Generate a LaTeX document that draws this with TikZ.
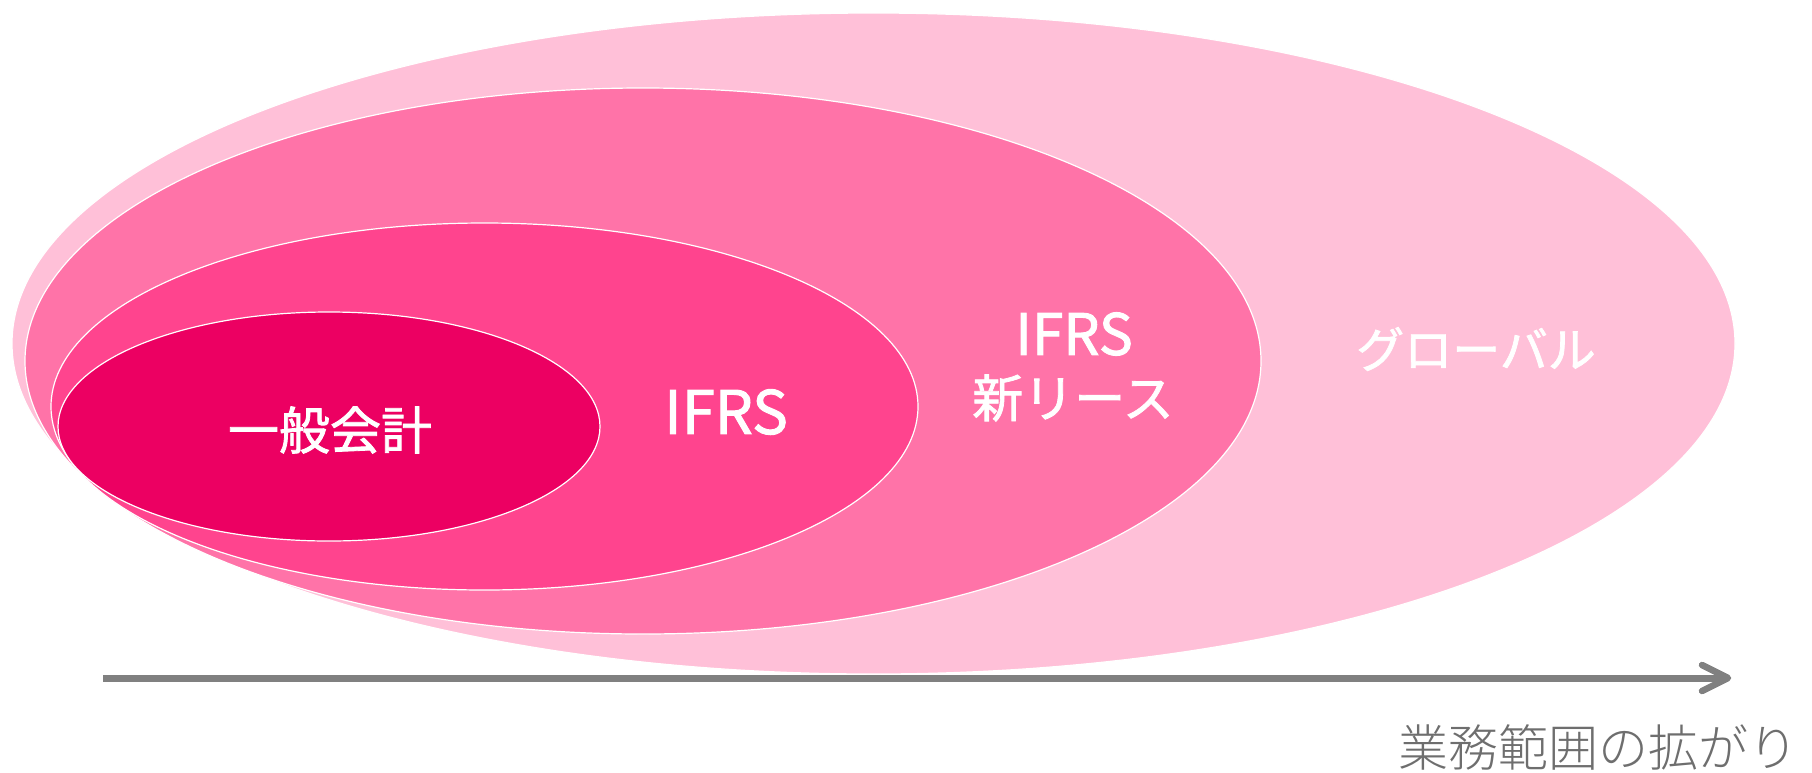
\documentclass[tikz,border=0pt]{standalone}
\usepackage{fontspec}
\setmainfont{Noto Sans CJK JP}
\newfontfamily\wfont[FakeBold=1.6]{Noto Sans CJK JP}
\newfontfamily\lfont{Noto Sans CJK JP Light}
\usetikzlibrary{shapes.geometric}
\definecolor{pkA}{HTML}{FFC0D8}
\definecolor{pkB}{HTML}{FF73A8}
\definecolor{pkC}{HTML}{FF448E}
\definecolor{pkD}{HTML}{EC0062}
\definecolor{arrgray}{HTML}{808080}
\definecolor{txtgray}{HTML}{6E6E6E}
\tikzset{
  zone/.style={ellipse, draw=white, line width=1.2pt, inner sep=0pt},
  wlabel/.style={text=white, inner sep=0pt, align=center},
}
\begin{document}
\begin{tikzpicture}[x=1pt,y=-1pt]
\useasboundingbox (0,0) rectangle (1812,772);
\node[zone, fill=pkA, minimum width=1723pt, minimum height=661pt] (global) at (873.5,343.5) {};
\node[zone, fill=pkB, minimum width=1236pt, minimum height=546pt] (lease) at (643,361) {};
\node[zone, fill=pkC, minimum width=867pt, minimum height=367pt] (ifrs) at (484.5,406.5) {};
\node[zone, fill=pkD, minimum width=542pt, minimum height=229pt] (general) at (329,426.5) {};
\node[wlabel, font=\wfont\fontsize{51}{60}\selectfont] (tgeneral) at (330,430) {一般会計};
\node[wlabel, font=\wfont\fontsize{60}{60}\selectfont] (tifrs) at (726,412) {IFRS};
\node[wlabel, font=\wfont\fontsize{57}{62}\selectfont] (tlease1) at (1074,334) {IFRS};
\node[wlabel, font=\wfont\fontsize{51}{60}\selectfont] (tlease2) at (1073,398) {新リース};
\node[wlabel, font=\wfont\fontsize{48}{60}\selectfont] (tglobal) at (1476,349) {グローバル};
\coordinate (arrS) at (103,678);
\coordinate (arrE) at (1728,678);
\draw[arrgray, line width=7pt] (arrS) -- (arrE);
\draw[arrgray, line width=6.5pt, line cap=round, line join=round] ([shift={(-26,-13)}]arrE) -- (arrE) -- ([shift={(-26,13)}]arrE);
\node[text=txtgray, inner sep=0pt, font=\lfont\fontsize{50}{60}\selectfont] (axis) at (1598,747) {業務範囲の拡がり};
\end{tikzpicture}
\end{document}
